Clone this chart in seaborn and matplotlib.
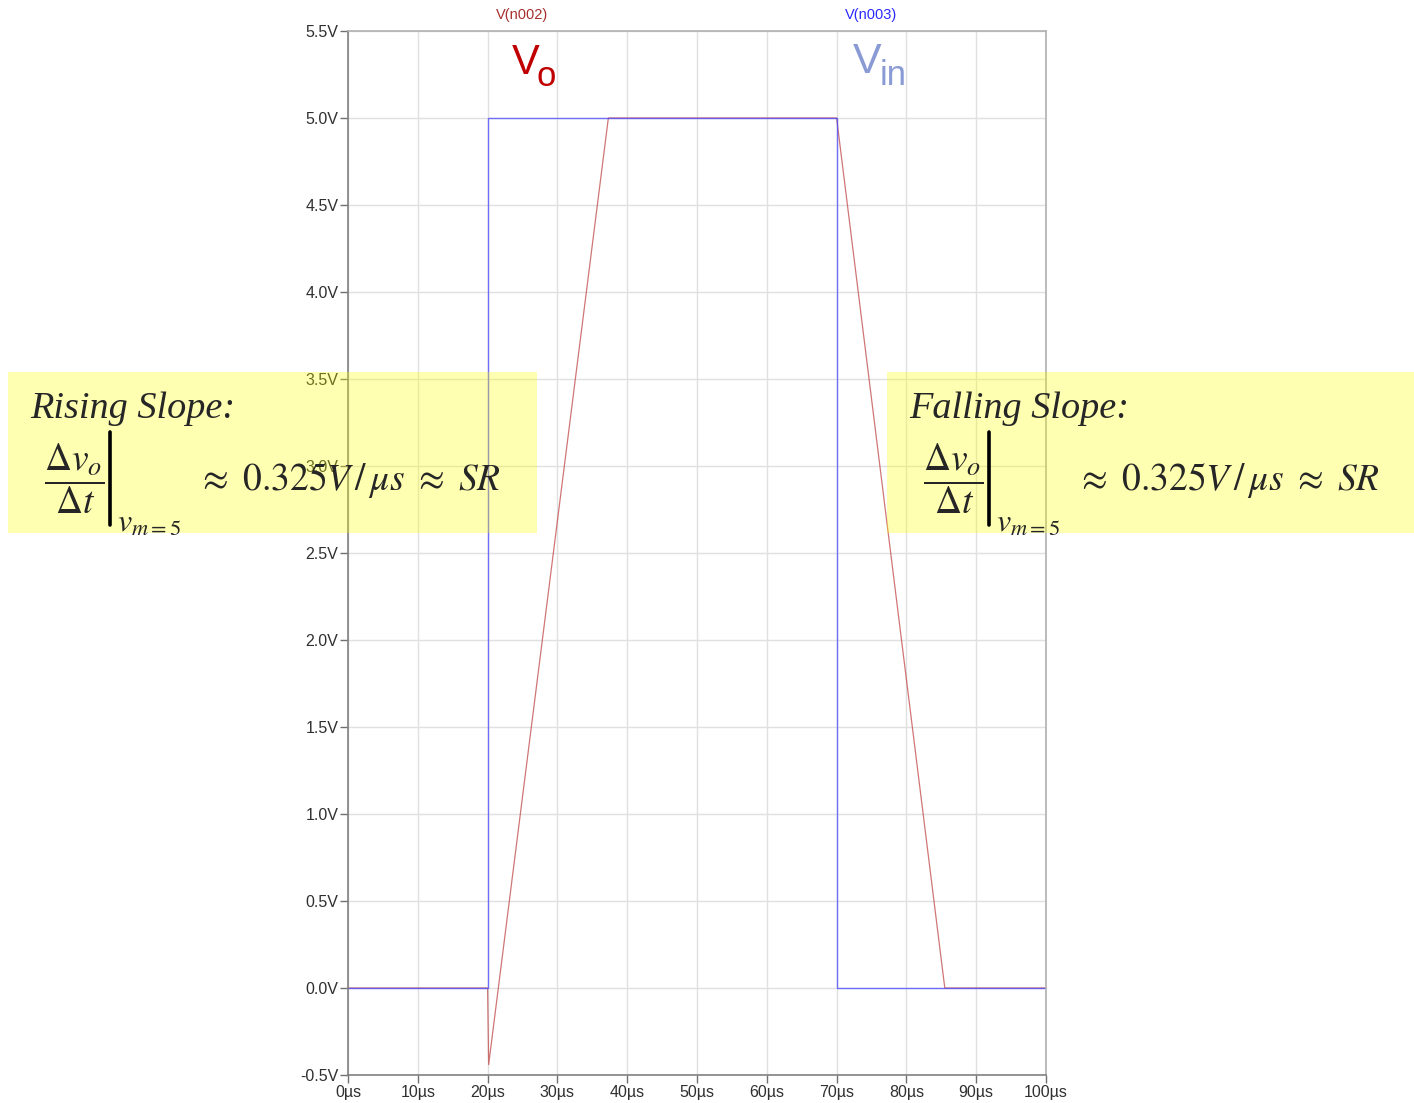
import matplotlib
matplotlib.use("Agg")
import matplotlib.pyplot as plt
import seaborn as sns
import pandas as pd
from matplotlib.patches import Rectangle
from matplotlib.lines import Line2D

# traces (time in us, volts)
vo_time = [0, 20, 20.15, 37.3, 70, 85.5, 100]
vo_volts = [0, 0, -0.44, 5.0, 5.0, 0, 0]
vin_time = [0, 20, 20, 70, 70, 100]
vin_volts = [0, 0, 5.0, 5.0, 0, 0]

y_ticks = [-0.5, 0.0, 0.5, 1.0, 1.5, 2.0, 2.5, 3.0, 3.5, 4.0, 4.5, 5.0, 5.5]
x_ticks = [0, 10, 20, 30, 40, 50, 60, 70, 80, 90, 100]

df_vo = pd.DataFrame({"t": vo_time, "v": vo_volts})
df_vin = pd.DataFrame({"t": vin_time, "v": vin_volts})

sns.set_style("white")
plt.rcParams['font.family'] = ['Liberation Sans', 'DejaVu Sans']
plt.rcParams['mathtext.fontset'] = 'stix'

W, H = 1414, 1103
fig = plt.figure(figsize=(W / 100, H / 100), dpi=100)
ax = fig.add_axes([348 / W, 1 - 1075 / H, 698 / W, 1044 / H])

sns.lineplot(data=df_vo, x="t", y="v", sort=False, estimator=None,
             color="#c04848", alpha=0.75, linewidth=0.9, ax=ax)
sns.lineplot(data=df_vin, x="t", y="v", sort=False, estimator=None,
             color="#4848ff", alpha=0.75, linewidth=1.0, ax=ax)

ax.set_xlim(0, 100)
ax.set_ylim(-0.5, 5.5)
ax.set_xticks(x_ticks)
ax.set_xticklabels([f"{t}µs" for t in x_ticks])
ax.set_yticks(y_ticks)
ax.set_yticklabels([f"{v:.1f}V" for v in y_ticks])
ax.set_xlabel("")
ax.set_ylabel("")
ax.grid(True, color="#e0e0e0", linewidth=1.0)
ax.tick_params(axis="both", which="major", length=6, width=1, color="#707070",
               labelsize=11.5, labelcolor="#303030", pad=1, left=True, bottom=True)
for side in ["left", "bottom"]:
    ax.spines[side].set_color("#808080")
for side in ["top", "right"]:
    ax.spines[side].set_color("#b0b0b0")
for s in ax.spines.values():
    s.set_linewidth(1.2)


def fx(px):
    return px / W


def fy(py):
    return 1 - py / H


# trace names above the plot
fig.text(fx(522), fy(15), "V(n002)", color="#a83030", fontsize=10.5, ha="center", va="center")
fig.text(fx(871), fy(15), "V(n003)", color="#2a2aff", fontsize=10.5, ha="center", va="center")

# big labels
fig.text(fx(512), fy(74), "V", color="#c00000", fontsize=30, ha="left", va="baseline")
fig.text(fx(537), fy(86), "o", color="#c00000", fontsize=25, ha="left", va="baseline")
fig.text(fx(853), fy(73), "V", color="#8a9ad4", fontsize=31, ha="left", va="baseline")
fig.text(fx(880), fy(85), "in", color="#8a9ad4", fontsize=25, ha="left", va="baseline")

# yellow annotation boxes
for x0, x1 in [(8, 537), (887, 1414)]:
    fig.add_artist(Rectangle((fx(x0), fy(533)), fx(x1) - fx(x0), fy(372) - fy(533),
                             transform=fig.transFigure, facecolor="#ffff00", alpha=0.3,
                             edgecolor="none", zorder=2))

frac = r"$\dfrac{\Delta v_o}{\Delta t}$"
approx = r"$\approx\ 0.325V\,/\,\mu s\ \approx\ SR$"
for x0, title in [(30, "Rising Slope:"), (909, "Falling Slope:")]:
    fig.text(fx(x0), fy(418), title, family="Liberation Serif", style="italic",
             fontsize=27.5, ha="left", va="baseline", zorder=3)
    fig.text(fx(x0 + 44), fy(479), frac, fontsize=27, ha="center", va="center", zorder=3)
    fig.add_artist(Line2D([fx(x0 + 80), fx(x0 + 80)], [fy(432), fy(525)],
                          transform=fig.transFigure, color="black", linewidth=2.6, zorder=3))
    fig.text(fx(x0 + 87), fy(532), r"$v_{m=5}$", fontsize=23, ha="left", va="baseline", zorder=3)
    fig.text(fx(x0 + 167), fy(490), approx, fontsize=27, ha="left", va="baseline", zorder=3)

fig.savefig("out.png", dpi=100)
